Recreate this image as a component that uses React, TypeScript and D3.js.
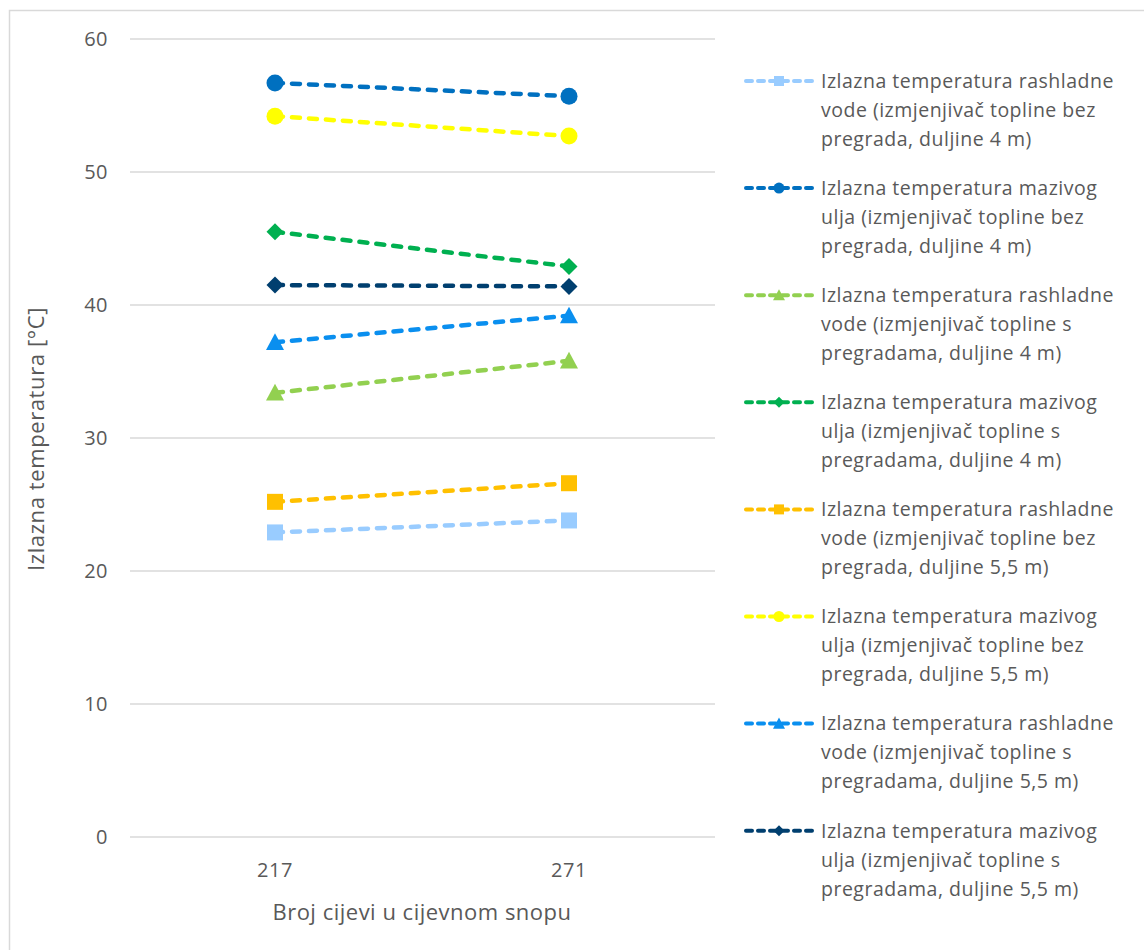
import React from "react";
import * as d3 from "d3";

const categories = ["217", "271"];
const yTicks = [0, 10, 20, 30, 40, 50, 60];

const seriesNames = [
  ["Izlazna temperatura rashladne", "vode (izmjenjivač topline bez", "pregrada, duljine 4 m)"],
  ["Izlazna temperatura mazivog", "ulja (izmjenjivač topline bez", "pregrada, duljine 4 m)"],
  ["Izlazna temperatura rashladne", "vode (izmjenjivač topline s", "pregradama, duljine 4 m)"],
  ["Izlazna temperatura mazivog", "ulja  (izmjenjivač topline s", "pregradama, duljine 4 m)"],
  ["Izlazna temperatura rashladne", "vode (izmjenjivač topline bez", "pregrada, duljine 5,5 m)"],
  ["Izlazna temperatura mazivog", "ulja  (izmjenjivač topline bez", "pregrada, duljine 5,5 m)"],
  ["Izlazna temperatura rashladne", "vode (izmjenjivač topline s", "pregradama, duljine 5,5 m)"],
  ["Izlazna temperatura mazivog", "ulja  (izmjenjivač topline s", "pregradama, duljine 5,5 m)"],
];

const s1 = [22.9, 23.8];
const s2 = [56.7, 55.7];
const s3 = [33.4, 35.8];
const s4 = [45.5, 42.9];
const s5 = [25.2, 26.6];
const s6 = [54.2, 52.7];
const s7 = [37.2, 39.2];
const s8 = [41.5, 41.4];

const seriesValues = [s1, s2, s3, s4, s5, s6, s7, s8];
const seriesColors = ["#99CCFF", "#0070C0", "#92D050", "#00B050", "#FFC000", "#FFFF00", "#0A8FEF", "#003F6F"];
const seriesMarkers = ["square", "circle", "triangle", "diamond", "square", "circle", "triangle", "diamond"];

const FONT = "'Open Sans', sans-serif";
const GRAY = "#595959";

function markerPath(type: string, s: number) {
  if (type === "square") return `M${-s},${-s}H${s}V${s}H${-s}Z`;
  if (type === "diamond") return `M0,${-s}L${s},0L0,${s}L${-s},0Z`;
  if (type === "triangle") return `M0,${-s}L${s},${s * 0.85}L${-s},${s * 0.85}Z`;
  return d3.arc()({ innerRadius: 0, outerRadius: s, startAngle: 0, endAngle: 2 * Math.PI } as any) as string;
}

export default function App() {
  const W = 1144;
  const H = 950;
  const x = d3.scalePoint<string>().domain(categories).range([128, 716]).padding(0.5);
  const y = d3.scaleLinear().domain([0, 60]).range([837, 39]);
  const line = d3
    .line<number>()
    .x((_, i) => x(categories[i]) as number)
    .y((d) => y(d));

  const markerSizes: Record<string, number> = { square: 8, circle: 8.5, triangle: 9, diamond: 8.5 };
  const legendMarkerSizes: Record<string, number> = { square: 5, circle: 5.5, triangle: 6, diamond: 5.5 };

  return (
    <svg
      width={W}
      height={H}
      style={{ position: "absolute", left: 0, top: 0, fontFamily: FONT }}
    >
      <rect x={0} y={0} width={W} height={H} fill="#fff" />
      <rect x={9.5} y={10.5} width={1150} height={960} fill="none" stroke="#D9D9D9" strokeWidth={1.5} />
      {yTicks.map((t) => (
        <g key={t}>
          <line x1={130} x2={715} y1={y(t)} y2={y(t)} stroke="#D9D9D9" strokeWidth={1.5} />
          <text x={108} y={y(t)} dy="0.35em" textAnchor="end" fontSize={20} letterSpacing={0.5} fill={GRAY}>
            {t}
          </text>
        </g>
      ))}
      {categories.map((c) => (
        <text key={c} x={x(c)} y={870} dy="0.35em" textAnchor="middle" fontSize={20} letterSpacing={0.5} fill={GRAY}>
          {c}
        </text>
      ))}
      <text x={422} y={912} dy="0.35em" textAnchor="middle" fontSize={22} letterSpacing={0.5} fill={GRAY}>
        Broj cijevi u cijevnom snopu
      </text>
      <text
        transform={`translate(36,${439}) rotate(-90)`}
        dy="0.35em"
        textAnchor="middle"
        fontSize={22}
        letterSpacing={0.6}
        fill={GRAY}
      >
        Izlazna temperatura [°C]
      </text>
      {seriesValues.map((vals, si) => (
        <g key={si}>
          <path
            d={line(vals) as string}
            fill="none"
            stroke={seriesColors[si]}
            strokeWidth={4.5}
            strokeDasharray="8,9"
            strokeLinecap="round"
          />
          {vals.map((v, i) => (
            <path
              key={i}
              d={markerPath(seriesMarkers[si], markerSizes[seriesMarkers[si]])}
              transform={`translate(${x(categories[i])},${y(v)})`}
              fill={seriesColors[si]}
            />
          ))}
        </g>
      ))}
      {seriesNames.map((lines, si) => {
        const cy = 81 + si * 107.1;
        return (
          <g key={si}>
            <line
              x1={746}
              x2={813}
              y1={cy}
              y2={cy}
              stroke={seriesColors[si]}
              strokeWidth={4}
              strokeDasharray="6,6"
              strokeLinecap="round"
            />
            <path
              d={markerPath(seriesMarkers[si], legendMarkerSizes[seriesMarkers[si]])}
              transform={`translate(779,${cy})`}
              fill={seriesColors[si]}
            />
            {lines.map((t, li) => (
              <text key={li} x={821} y={cy + li * 29} dy="0.35em" fontSize={19.5} letterSpacing={0.5} fill={GRAY}>
                {t}
              </text>
            ))}
          </g>
        );
      })}
    </svg>
  );
}
